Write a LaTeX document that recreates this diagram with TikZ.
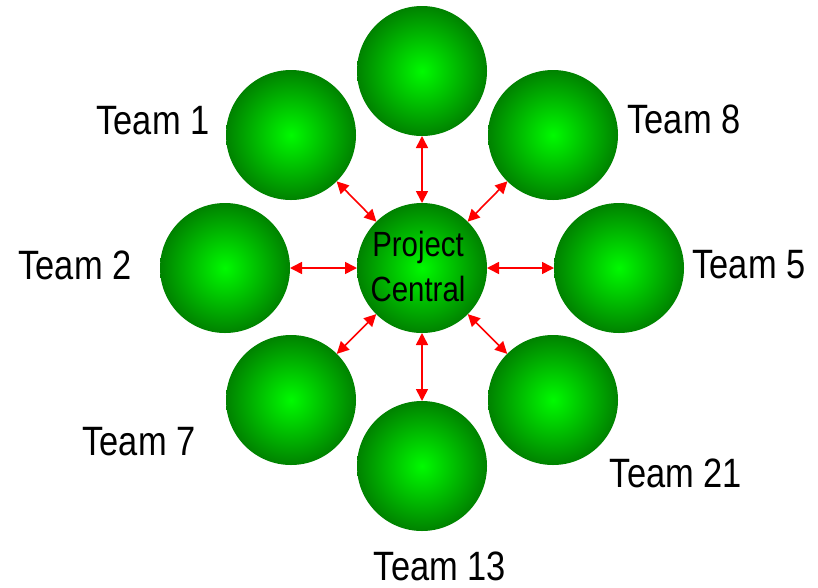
\documentclass[tikz,border=0pt]{standalone}
\usepackage{fontspec}
\setmainfont{Liberation Sans}
\newfontfamily\narrowfont{Liberation Sans}[FakeStretch=0.84]
\usetikzlibrary{arrows.meta}
\definecolor{ballin}{RGB}{0,250,0}
\definecolor{ballout}{RGB}{0,130,0}
\definecolor{linkred}{RGB}{255,0,0}
\tikzset{
  ball/.style={circle, minimum size=130pt, inner sep=0pt, outer sep=0pt,
    inner color=ballin, outer color=ballout},
  link/.style={draw=linkred, line width=1.6pt,
    {Triangle[length=12pt,width=12pt]}-{Triangle[length=12pt,width=12pt]}},
  teamlabel/.style={anchor=base, inner sep=0pt, font=\narrowfont\fontsize{41}{48}\selectfont}
}
\begin{document}
\begin{tikzpicture}[x=1pt,y=-1pt]
\useasboundingbox (0,0) rectangle (818,587);
\node[ball] (c) at (422,268) {};
\node[ball] (top) at (422,71) {};
\node[ball] (t1) at (291,135) {};
\node[ball] (t8) at (553,135) {};
\node[ball] (t2) at (225,268) {};
\node[ball] (t5) at (619,268) {};
\node[ball] (t7) at (291,400) {};
\node[ball] (t21) at (553,400) {};
\node[ball] (t13) at (422,466) {};
\foreach \n in {top,t1,t8,t2,t5,t7,t21,t13}{
  \draw[link] (c) -- (\n);
}
\node[anchor=base, inner sep=0pt, align=center, font=\narrowfont\fontsize{35}{45}\selectfont] (ct) at (418,301) {Project\\Central};
\node[teamlabel] (l1) at (153,134) {Team 1};
\node[teamlabel] (l8) at (684,133) {Team 8};
\node[teamlabel] (l2) at (75,279) {Team 2};
\node[teamlabel] (l5) at (749,278) {Team 5};
\node[teamlabel] (l7) at (139,455) {Team 7};
\node[teamlabel] (l21) at (676,487) {Team 21};
\node[teamlabel] (l13) at (440,580) {Team 13};
\end{tikzpicture}
\end{document}
